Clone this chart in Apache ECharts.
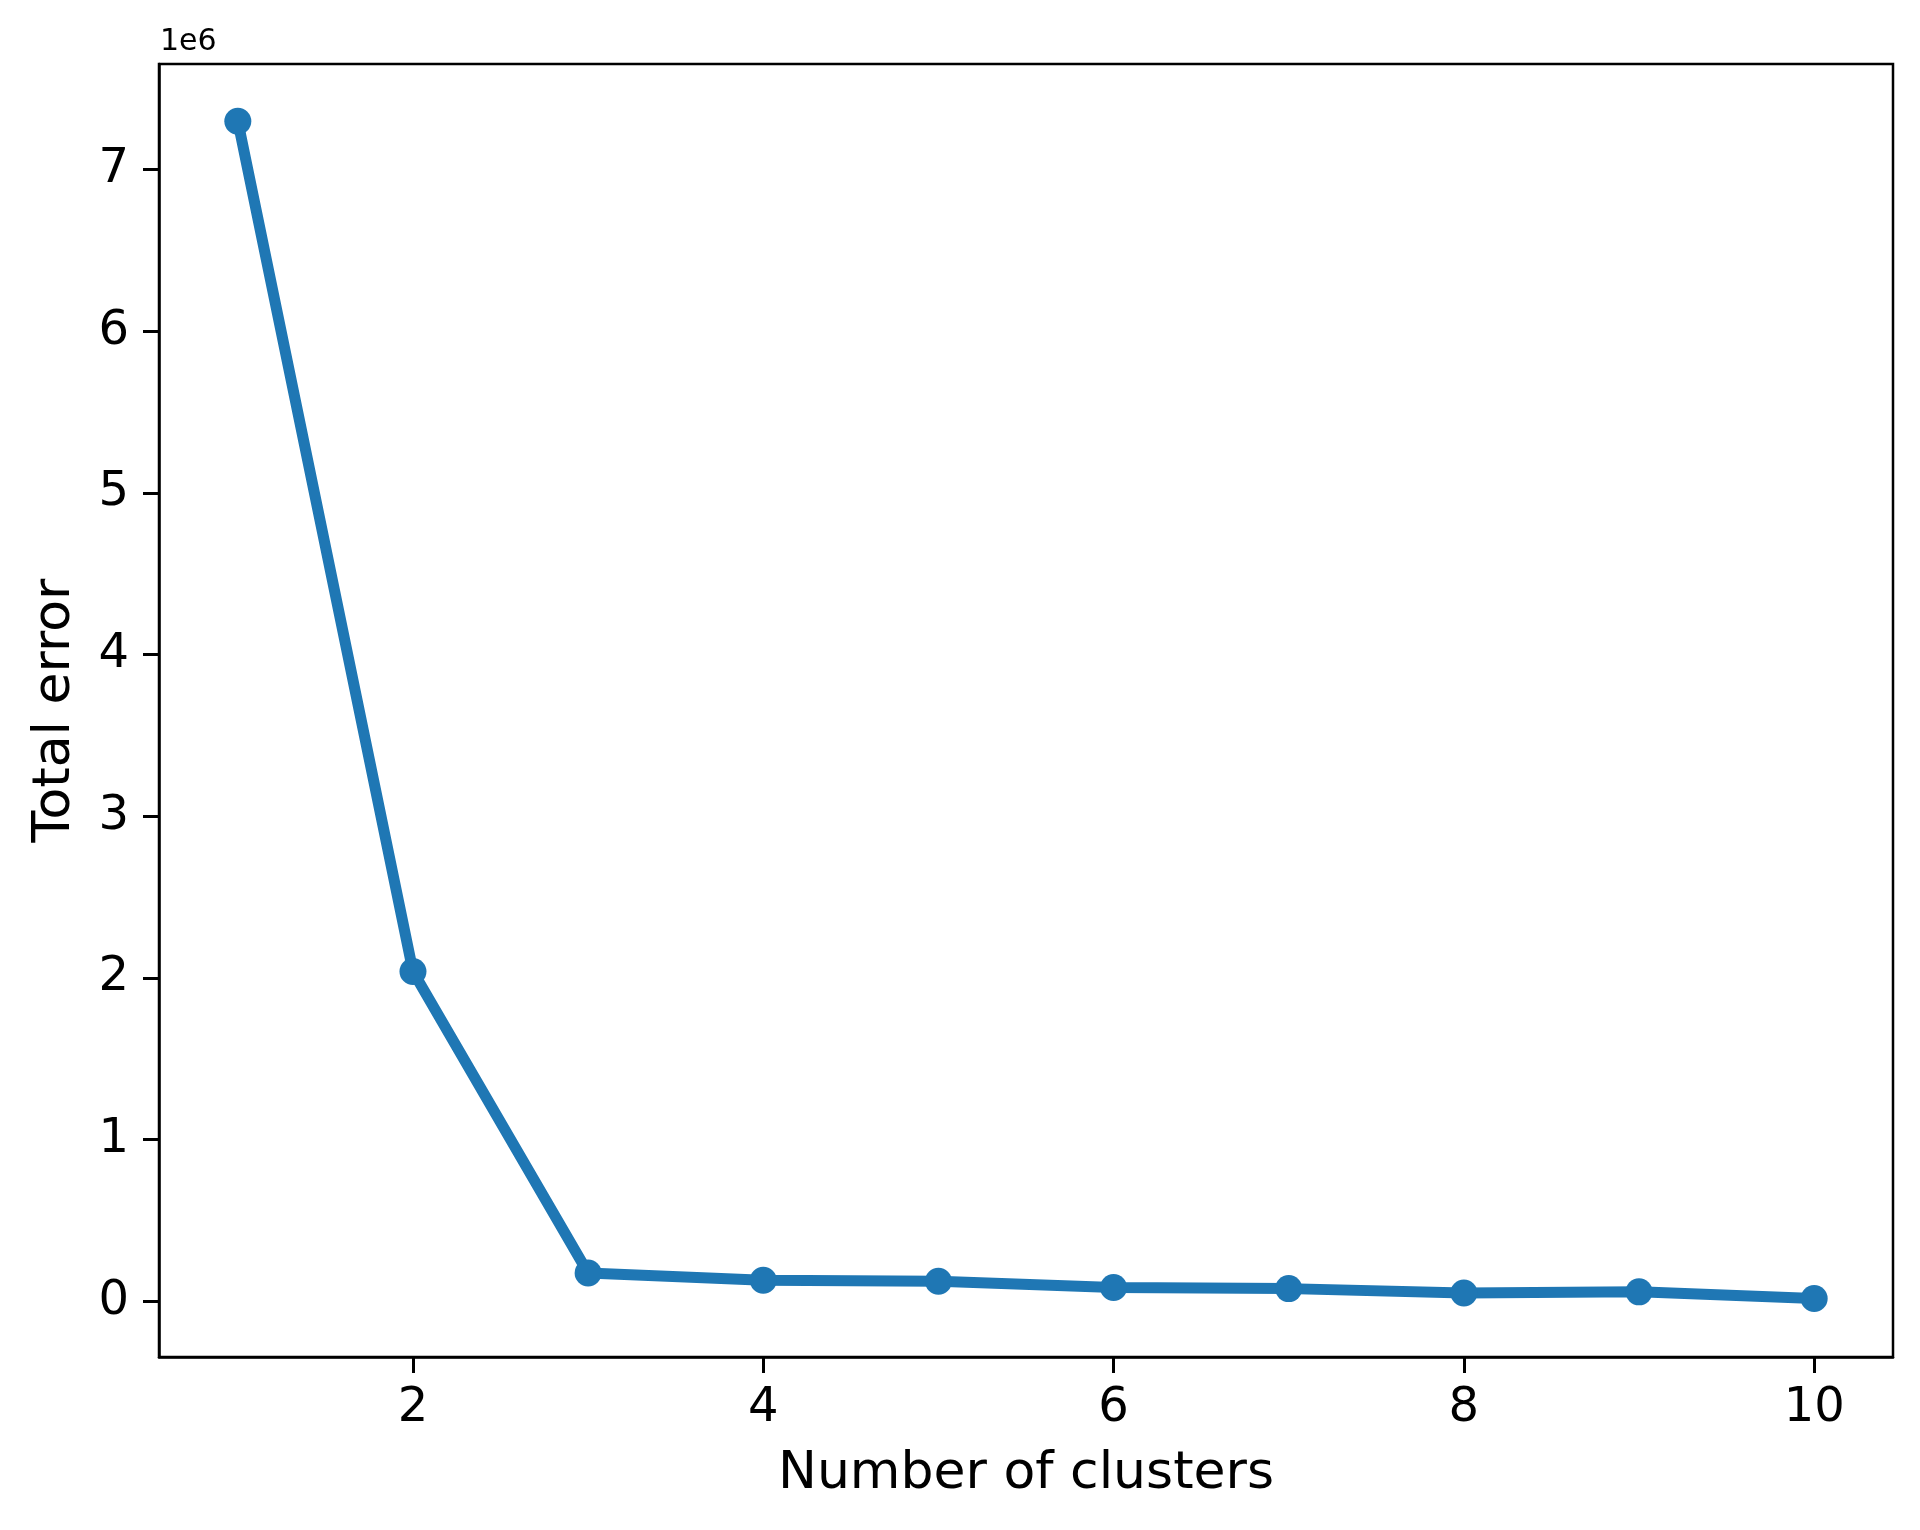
<!DOCTYPE html>
<html>
<head>
<meta charset="utf-8">
<script src="https://cdn.jsdelivr.net/npm/echarts@6/dist/echarts.min.js"></script>
<style>html,body{margin:0;padding:0;background:#fff;}#c{width:1920px;height:1530px;}</style>
</head>
<body>
<div id="c"></div>
<script>
const clusters = [1, 2, 3, 4, 5, 6, 7, 8, 9, 10];
const totalError = [7300000, 2040000, 175000, 130000, 124000, 85000, 78000, 51000, 58000, 17000];
const xTicks = [2, 4, 6, 8, 10];
const yTicks = [0, 1000000, 2000000, 3000000, 4000000, 5000000, 6000000, 7000000];
const xLabel = 'Number of clusters';
const yLabel = 'Total error';
const offsetText = '1e6';

const font = 'DejaVu Sans';
const chart = echarts.init(document.getElementById('c'), null, {renderer: 'canvas'});
chart.setOption({
  animation: false,
  backgroundColor: '#fff',
  grid: {left: 159, top: 64, right: 27, bottom: 173, show: true, borderColor: '#000', borderWidth: 2.5, backgroundColor: 'transparent'},
  graphic: [{type: 'text', left: 160, top: 27, style: {text: offsetText, font: '30px "DejaVu Sans"', fill: '#000'}}],
  xAxis: {
    type: 'value', min: 0.55, max: 10.45,
    name: xLabel, nameLocation: 'middle', nameGap: 91,
    nameTextStyle: {fontFamily: font, fontSize: 52, color: '#000'},
    axisLine: {show: true, onZero: false, lineStyle: {color: '#000', width: 2.5}},
    axisTick: {show: true, inside: false, length: 16, lineStyle: {color: '#000', width: 3}, customValues: xTicks},
    axisLabel: {show: true, fontFamily: font, fontSize: 48, color: '#000', margin: 28, customValues: xTicks},
    splitLine: {show: false}
  },
  yAxis: {
    type: 'value', min: -345000, max: 7654000,
    name: yLabel, nameLocation: 'middle', nameGap: 78, nameRotate: 90,
    nameTextStyle: {fontFamily: font, fontSize: 52, color: '#000'},
    axisLine: {show: true, onZero: false, lineStyle: {color: '#000', width: 2.5}},
    axisTick: {show: true, inside: false, length: 16, lineStyle: {color: '#000', width: 3}, customValues: yTicks},
    axisLabel: {show: true, fontFamily: font, fontSize: 48, color: '#000', margin: 30, customValues: yTicks,
      formatter: v => String(Math.round(v / 1000000))},
    splitLine: {show: false}
  },
  series: [{
    type: 'line',
    data: clusters.map((c, i) => [c, totalError[i]]),
    symbol: 'circle', symbolSize: 27,
    lineStyle: {color: '#1f77b4', width: 11},
    itemStyle: {color: '#1f77b4'},
    z: 3
  }]
});
</script>
</body>
</html>
